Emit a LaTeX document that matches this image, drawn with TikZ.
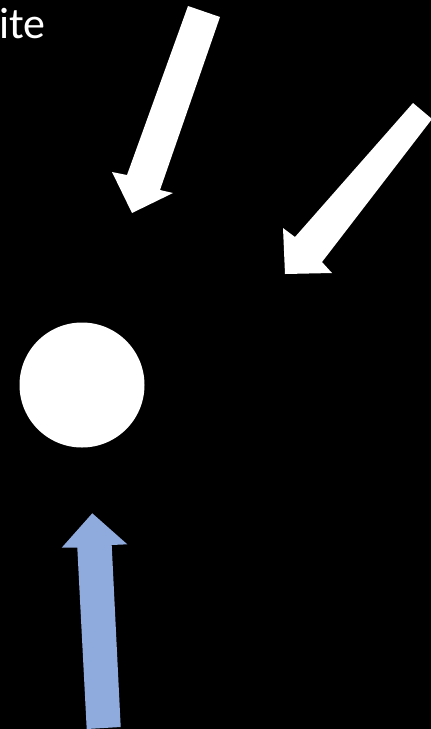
\documentclass[tikz,border=0pt]{standalone}
\usepackage{fontspec}
\setmainfont{Carlito}
\definecolor{lightblue}{HTML}{8FAADC}
\begin{document}
\begin{tikzpicture}[x=1pt,y=-1pt,
  blockarrow/.style={fill=white},
  bluearrow/.style={fill=lightblue}]
\fill[black] (0,0) rectangle (431,729);
\useasboundingbox (0,0) rectangle (431,729);
% text
\node[anchor=base west,inner sep=0pt,text=white,font=\fontsize{44}{44}\selectfont] (txt) at (-1,38) {ite};
% arrow 1
\fill[blockarrow] (188,6) -- (220,17) -- (160,190) -- (173,193) -- (132,213) -- (112,172) -- (127,175) -- cycle;
% arrow 2
\fill[blockarrow] (413,103) -- (432,119) -- (322,262) -- (332,273) -- (285,274) -- (283,228) -- (295,237) -- cycle;
% circle
\node[circle,fill=white,minimum size=125pt,inner sep=0pt] (ball) at (82,385) {};
% blue arrow
\fill[bluearrow] (92.3,513.3) -- (127.3,544.3) -- (111.7,545) -- (120.7,727) -- (86.7,729) -- (77.3,547.7) -- (61.7,547.7) -- cycle;
\end{tikzpicture}
\end{document}
